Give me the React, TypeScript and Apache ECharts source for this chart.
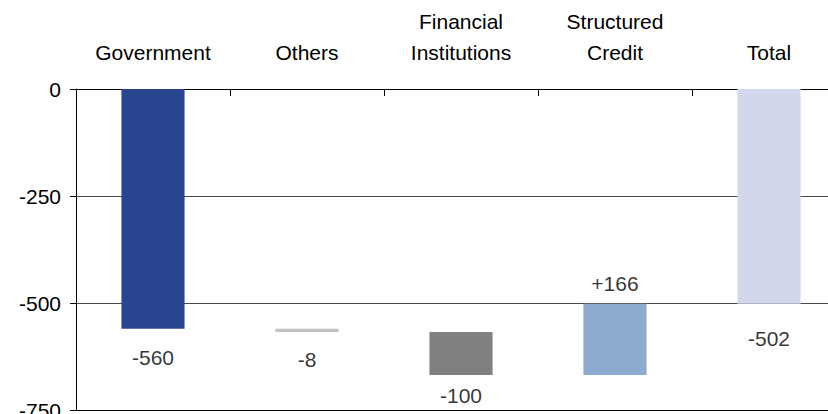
import React, { useEffect, useRef } from 'react';
import * as echarts from 'echarts';

// Waterfall: contributions by sector, then the resulting total
const categories = ['Government', 'Others', 'Financial\nInstitutions', 'Structured\nCredit', 'Total'];
const contributions = [-560, -8, -100, 166];
const totalValue = -502;
const valueLabels = ['-560', '-8', '-100', '+166', '-502'];
const yTickValues = [0, -250, -500, -750];

// Styling
const barColors = ['#27468f', '#c0c0c0', '#808080', '#8eaacf', '#d1d8ec'];
const labelOffsets = [29, 27, 21, -20, 35]; // px from the bar end
const FONT = '"Liberation Sans", Arial, sans-serif';

// Stack bases: running sum of the preceding contributions; the total starts at zero
const bases: number[] = [];
let running = 0;
contributions.forEach((c) => {
  bases.push(running);
  running += c;
});
bases.push(0);
const deltas = [...contributions, totalValue];
const barEnds = deltas.map((d, i) => bases[i] + d);

export default function App() {
  const ref = useRef<HTMLDivElement>(null);

  useEffect(() => {
    if (!ref.current) return;
    const chart = echarts.init(ref.current, undefined, { renderer: 'svg' });
    const yMin = yTickValues[yTickValues.length - 1];
    const yMax = yTickValues[0];
    chart.setOption({
      animation: false,
      backgroundColor: '#ffffff',
      textStyle: { fontFamily: FONT },
      // the plot runs past the right and bottom edges of the visible frame
      grid: { left: 76, top: 89, width: 770, height: 321, containLabel: false },
      xAxis: [
        {
          type: 'category',
          data: categories,
          position: 'top',
          boundaryGap: true,
          axisLine: { show: true, onZero: false, lineStyle: { color: '#000', width: 1 } },
          axisTick: { show: true, inside: true, length: 7, lineStyle: { color: '#000' } },
          axisLabel: {
            interval: 0,
            fontSize: 21,
            lineHeight: 31,
            margin: 21,
            color: '#000',
            fontFamily: FONT,
          },
        },
        {
          type: 'category',
          data: categories,
          position: 'bottom',
          axisLine: { show: true, onZero: false, lineStyle: { color: '#000', width: 1 } },
          axisTick: { show: false },
          axisLabel: { show: false },
        },
      ],
      yAxis: {
        type: 'value',
        min: yMin,
        max: yMax,
        interval: yTickValues[0] - yTickValues[1],
        axisLine: { show: true, lineStyle: { color: '#000', width: 1 } },
        axisTick: { show: true, inside: false, length: 6, lineStyle: { color: '#000' } },
        axisLabel: { fontSize: 21, margin: 15, color: '#000', fontFamily: FONT },
        splitLine: { show: true, lineStyle: { color: '#4a4a4a', width: 1 } },
      },
      series: [
        {
          name: 'base',
          type: 'bar',
          stack: 'wf',
          stackStrategy: 'all',
          barWidth: '41%',
          silent: true,
          itemStyle: { color: 'rgba(0,0,0,0)' },
          data: bases,
        },
        {
          name: 'change',
          type: 'bar',
          stack: 'wf',
          stackStrategy: 'all',
          barWidth: '41%',
          data: deltas.map((v, i) => ({ value: v, itemStyle: { color: barColors[i] } })),
        },
        {
          name: 'labels',
          type: 'scatter',
          symbolSize: 1,
          itemStyle: { color: 'rgba(0,0,0,0)' },
          silent: true,
          data: barEnds.map((v, i) => ({
            value: v,
            label: {
              show: true,
              position: 'inside',
              offset: [0, labelOffsets[i]],
              formatter: valueLabels[i],
              fontSize: 21,
              color: '#000',
              fontFamily: FONT,
            },
          })),
        },
      ],
    });
    return () => chart.dispose();
  }, []);

  return (
    <div
      style={{
        position: 'fixed',
        left: 0,
        top: 0,
        width: 828,
        height: 414,
        overflow: 'hidden',
        background: '#fff',
      }}
    >
      <div ref={ref} style={{ width: 850, height: 430 }} />
    </div>
  );
}
